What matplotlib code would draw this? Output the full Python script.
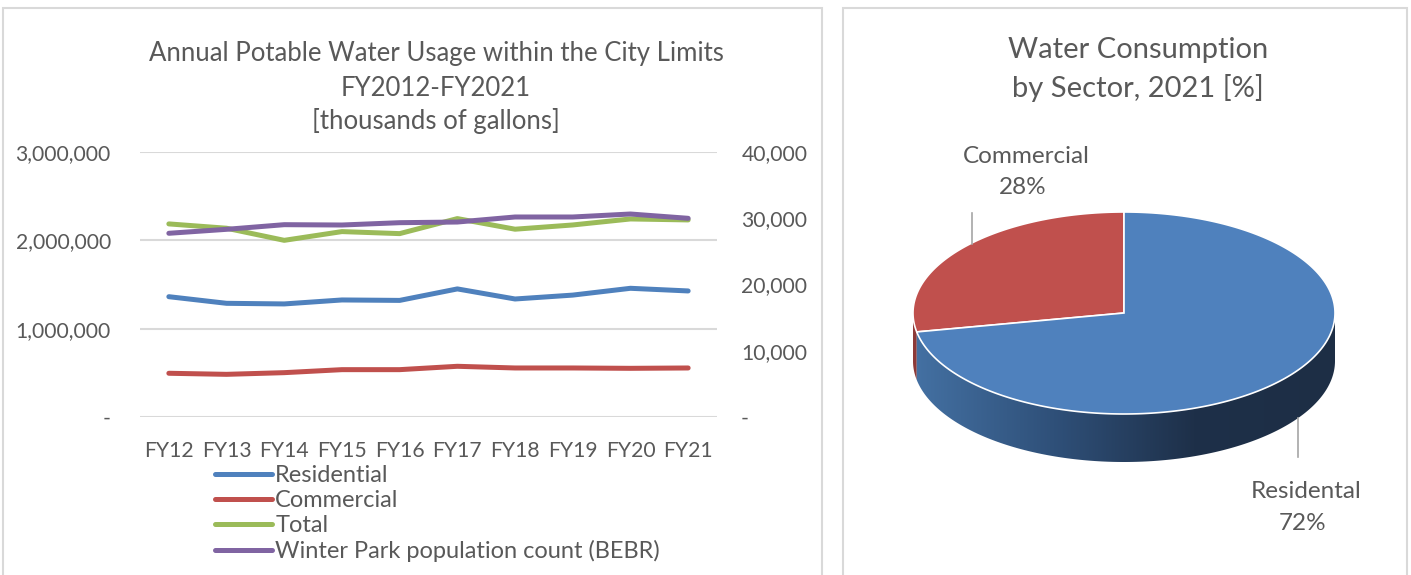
import numpy as np
import matplotlib
matplotlib.use("Agg")
import matplotlib.pyplot as plt
from matplotlib.patches import Rectangle, Polygon
from matplotlib.lines import Line2D
from matplotlib.ticker import FuncFormatter

plt.rcParams['font.family'] = ['Lato', 'DejaVu Sans']

# data (thousands of gallons / persons)
years = ["FY12", "FY13", "FY14", "FY15", "FY16", "FY17", "FY18", "FY19", "FY20", "FY21"]
residential = [1362000, 1287000, 1280000, 1325000, 1320000, 1450000, 1336000, 1380000, 1457000, 1427000]
commercial = [495000, 483000, 502000, 536000, 536000, 574000, 555000, 555000, 551000, 555000]
total = [2186000, 2137000, 2000000, 2099000, 2076000, 2246000, 2126000, 2174000, 2242000, 2231000]
population = [27730, 28330, 29030, 28980, 29330, 29430, 30190, 30190, 30640, 29990]

sectors = ["Residental", "Commercial"]
shares = [72, 28]

W, H = 1411, 575
fig = plt.figure(figsize=(W / 100, H / 100), dpi=100)
txt = '#595959'
grid = '#D9D9D9'


def fx(px):
    return px / W


def fy(py):
    return 1 - py / H


# panel frames
fig.patches.append(Rectangle((fx(3), fy(600)), fx(819), fy(8) - fy(600), transform=fig.transFigure,
                             fill=False, edgecolor=grid, lw=1.5))
fig.patches.append(Rectangle((fx(843), fy(600)), fx(564), fy(8) - fy(600), transform=fig.transFigure,
                             fill=False, edgecolor=grid, lw=1.5))

# ---- line chart ----
ax = fig.add_axes([fx(140), fy(417), fx(577), fy(152) - fy(417)])
ax2 = ax.twinx()
x = np.arange(len(years))
colors = {'Residential': '#4F81BD', 'Commercial': '#C0504D', 'Total': '#9BBB59',
          'Winter Park population count (BEBR)': '#8064A2'}
handles = []
for name, vals in [('Residential', residential), ('Commercial', commercial), ('Total', total)]:
    h, = ax.plot(x, vals, color=colors[name], lw=3.6, solid_capstyle='round', solid_joinstyle='round', label=name)
    handles.append(h)
h, = ax2.plot(x, population, color=colors['Winter Park population count (BEBR)'], lw=3.6,
              solid_capstyle='round', solid_joinstyle='round', label='Winter Park population count (BEBR)')
handles.append(h)

ax.set_xlim(-0.5, len(years) - 0.5)
ax.set_ylim(0, 3000000)
ax2.set_ylim(0, 40000)
ax.set_yticks([0, 1000000, 2000000, 3000000])
ax2.set_yticks([0, 10000, 20000, 30000, 40000])
ax.yaxis.set_major_formatter(FuncFormatter(lambda v, p: '-' if v == 0 else f'{v:,.0f}'))
ax2.yaxis.set_major_formatter(FuncFormatter(lambda v, p: '-  ' if v == 0 else f'{v:,.0f}'))
ax.set_xticks(x)
ax.set_xticklabels(years)
ax.grid(axis='y', color=grid, lw=1.5)
ax.set_axisbelow(True)
for a in (ax, ax2):
    for s in a.spines.values():
        s.set_visible(False)
    a.tick_params(length=0, labelsize=15.2, colors=txt)
ax.tick_params(axis='y', pad=21)
ax.tick_params(axis='x', pad=17)
ax2.tick_params(axis='y', pad=17.5)

title_lines = ['Annual Potable Water Usage within the City Limits', 'FY2012-FY2021', '[thousands of gallons]']
for yy, line in zip([53, 88, 121], title_lines):
    fig.text(fx(436), fy(yy), line, ha='center', va='center', fontsize=18.5, color=txt)

fig.legend(handles=handles, loc='upper left', bbox_to_anchor=(fx(215), fy(465)), frameon=False,
           fontsize=17, labelcolor=txt, handlelength=2.4, handletextpad=0.15, labelspacing=0.17,
           borderaxespad=0, borderpad=0)

# ---- 3D-look pie ----
pax = fig.add_axes([fx(894), fy(480), fx(460), fy(150) - fy(480)])
pax.set_xlim(-230, 230)
pax.set_ylim(-167, 163)
pax.axis('off')
rx, ry, depth = 211, 101, 48
pie_colors = {'Residental': '#4F81BD', 'Commercial': '#C0504D'}

# wedge angles: Commercial starts at 12 o'clock going counter-clockwise
fr = np.array(shares, dtype=float) / sum(shares)
wedges = []
a0 = 90.0
for name, f in zip(sectors[::-1], fr[::-1]):
    a1 = a0 + 360 * f
    wedges.append((name, a0, a1))
    a0 = a1

side_cmaps = {
    'Residental': matplotlib.colors.LinearSegmentedColormap.from_list(
        'side', ['#4471A3', '#2F5079', '#1E3049', '#1D2E45']),
    'Commercial': matplotlib.colors.LinearSegmentedColormap.from_list('side2', ['#8E3A38', '#7A302E']),
}

# side wall (front half only)
for name, a0, a1 in wedges:
    if a1 > 360:
        lo, hi = max(a0, 180), 360
    else:
        lo, hi = max(a0, 180), min(a1, 360)
    if hi <= lo:
        continue
    t = np.radians(np.linspace(lo, hi, 200))
    top = np.column_stack([rx * np.cos(t), ry * np.sin(t)])
    bot = top[::-1] - [0, depth]
    poly = Polygon(np.vstack([top, bot]), closed=True, facecolor='none', edgecolor='none')
    pax.add_patch(poly)
    grad = np.linspace(0, 1, 256).reshape(1, -1)
    im = pax.imshow(grad, cmap=side_cmaps[name], extent=[-rx, rx, -ry - depth, 0], aspect='auto', zorder=1)
    im.set_clip_path(poly)

# top face
for name, a0, a1 in wedges:
    t = np.radians(np.linspace(a0, a1, 300))
    pts = np.vstack([[0, 0], np.column_stack([rx * np.cos(t), ry * np.sin(t)])])
    pax.add_patch(Polygon(pts, closed=True, facecolor=pie_colors[name], edgecolor='white', lw=1.2, zorder=3))

# leader lines and labels
fig.add_artist(Line2D([fx(972), fx(972)], [fy(213), fy(244)], color='#A6A6A6', lw=1.2))
fig.add_artist(Line2D([fx(1298), fx(1298)], [fy(418), fy(457)], color='#A6A6A6', lw=1.2))
fig.text(fx(1026), fy(156), sectors[1], ha='center', va='center', fontsize=17.5, color=txt)
fig.text(fx(1023), fy(188), f'{shares[1]}%', ha='center', va='center', fontsize=17.5, color=txt)
fig.text(fx(1306), fy(491), sectors[0], ha='center', va='center', fontsize=17.5, color=txt)
fig.text(fx(1303), fy(524), f'{shares[0]}%', ha='center', va='center', fontsize=17.5, color=txt)

fig.text(fx(1138), fy(50), 'Water Consumption', ha='center', va='center', fontsize=21, color=txt)
fig.text(fx(1138), fy(88), 'by Sector, 2021 [%]', ha='center', va='center', fontsize=21, color=txt)

fig.savefig('out.png', dpi=100)
